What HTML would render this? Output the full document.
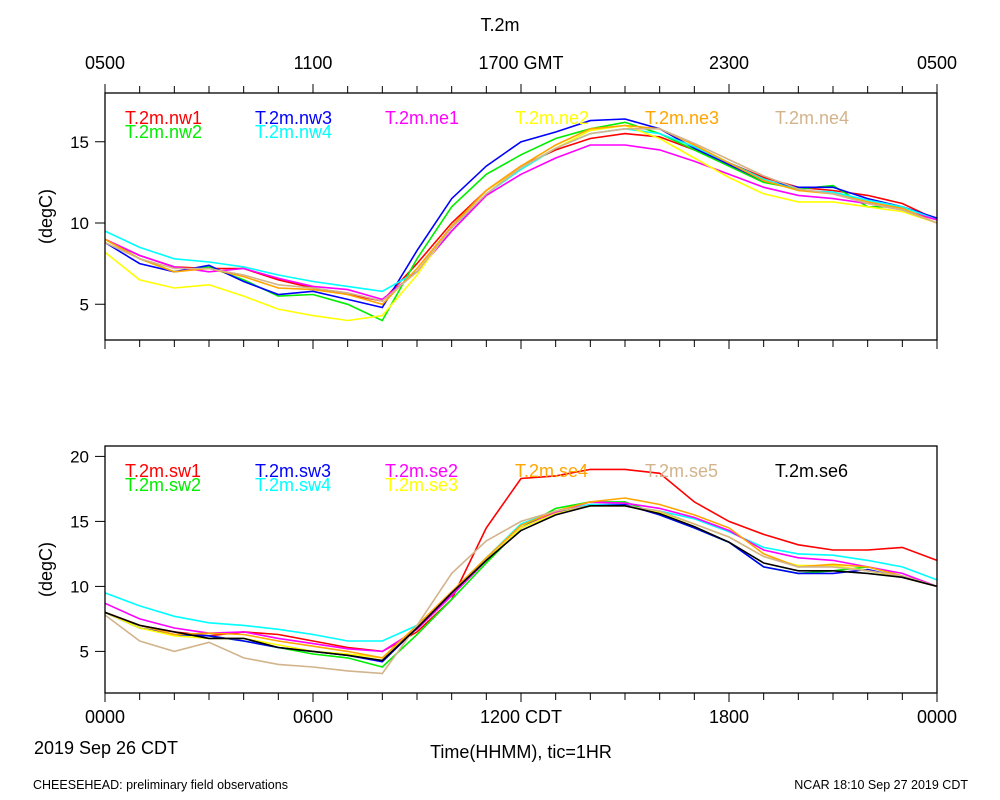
<!DOCTYPE html>
<html><head><meta charset="utf-8"><style>
body{margin:0;background:#fff;}
svg{display:block;font-family:"Liberation Sans",sans-serif;}
</style></head><body>
<svg id="c" width="1000" height="800"></svg>
<script>
const hours=[0,1,2,3,4,5,6,7,8,9,10,11,12,13,14,15,16,17,18,19,20,21,22,23,24];
const nw1=[9,8,7.3,7.2,7.2,6.5,6,5.6,5.2,7.5,10,12,13.5,14.5,15.2,15.5,15.3,14.5,13.7,12.8,12.2,12,11.7,11.2,10.2];
const nw2=[9,7.8,7,7.3,6.5,5.5,5.6,5,4,7.8,11,13,14.2,15.2,15.8,16.2,15.5,14.5,13.5,12.5,12.1,12.3,11,11,10.2];
const nw3=[8.8,7.5,7,7.4,6.4,5.6,5.8,5.3,4.8,8.3,11.5,13.5,15,15.6,16.3,16.4,15.8,14.6,13.6,12.6,12.2,12.2,11.5,11,10.3];
const nw4=[9.5,8.5,7.8,7.6,7.3,6.8,6.4,6.1,5.8,7,9.5,11.8,13.3,14.6,15.5,15.8,15.5,14.7,13.7,12.7,12,11.9,11.4,11,10.2];
const ne1=[9,8,7.3,7,7.2,6.6,6.1,5.9,5.3,7,9.5,11.7,13,14,14.8,14.8,14.5,13.8,13,12.2,11.7,11.5,11.2,10.8,10.2];
const ne2=[8.2,6.5,6,6.2,5.5,4.7,4.3,4,4.3,6.8,9.8,12,13.4,14.6,15.7,16,15.2,14,12.8,11.8,11.3,11.3,11,10.7,10];
const ne3=[9,7.8,7,7.2,6.7,6,5.9,5.6,5,7.2,9.8,12,13.5,14.8,15.8,16,15.8,14.8,13.7,12.6,12,11.8,11.3,10.9,10];
const ne4=[8.8,7.8,7.2,7.2,6.8,6.2,6,5.7,5.2,7,9.7,11.8,13.4,14.6,15.5,15.8,15.8,14.9,13.9,12.9,12.1,11.8,11.2,10.8,10];
const sw1=[8,7,6.5,6.2,6.5,6.3,5.8,5.3,5,6.5,9,14.5,18.3,18.5,19,19,18.7,16.5,15,14,13.2,12.8,12.8,13,12];
const sw2=[8,6.8,6.3,6.2,5.8,5.3,4.8,4.5,3.8,6.3,9,11.8,14.5,16,16.5,16.5,15.5,14.5,13.4,11.5,11,11.2,11.5,10.8,10];
const sw3=[8,6.8,6.3,6.2,5.8,5.3,5,4.7,4.2,6.8,9.3,12,14.5,15.7,16.3,16.3,15.5,14.5,13.4,11.5,11,11,11.3,10.7,10];
const sw4=[9.5,8.5,7.7,7.2,7,6.7,6.3,5.8,5.8,7,9.5,12.2,14.8,15.8,16.3,16.2,15.8,15.2,14.2,13,12.5,12.4,12,11.5,10.5];
const se2=[8.7,7.5,6.8,6.4,6.5,6,5.6,5.2,5,6.7,9.3,12,14.5,15.7,16.5,16.4,16,15.3,14.3,12.8,12.2,12,11.5,11,10];
const se3=[8,6.8,6.2,6,6,5.5,5,4.8,4.5,7,9.5,12,14.5,15.6,16.2,16.2,15.7,14.8,13.8,12.3,11.6,11.6,11.2,10.7,10];
const se4=[8,7,6.3,6.4,6.3,5.8,5.4,5,4.5,7,9.6,12.2,14.7,15.8,16.5,16.8,16.3,15.5,14.5,12.5,11.5,11.7,11.5,10.8,10];
const se5=[7.8,5.8,5,5.7,4.5,4,3.8,3.5,3.3,7,11,13.5,15,15.8,16.2,16.2,15.8,14.8,13.8,12.3,11.5,11.5,11.2,10.8,10];
const se6=[8,7,6.5,6,6,5.3,5,4.7,4.3,6.8,9.5,12,14.3,15.5,16.2,16.2,15.6,14.6,13.4,11.8,11.2,11.2,11,10.7,10];
const topTicks=[5,10,15], botTicks=[5,10,15,20];
const topXLabels=["0500","1100","1700 GMT","2300","0500"];
const botXLabels=["0000","0600","1200 CDT","1800","0000"];

const svg=document.getElementById('c');const NS='http://www.w3.org/2000/svg';
function mk(t,a,txt,parent){const e=document.createElementNS(NS,t);for(const k in a)e.setAttribute(k,a[k]);if(txt!==undefined)e.textContent=txt;(parent||svg).appendChild(e);return e;}
const X0=105,X1=937;const x=h=>X0+(X1-X0)*h/24;
const panels=[
 {top:93,bot:340,ymin:2.8,ymax:18.0,ticks:topTicks,
  series:[["T.2m.nw1",nw1,"#ff0000"],["T.2m.nw2",nw2,"#00ee00"],["T.2m.nw3",nw3,"#0000ff"],["T.2m.nw4",nw4,"#00ffff"],["T.2m.ne1",ne1,"#ff00ff"],["T.2m.ne2",ne2,"#ffff00"],["T.2m.ne3",ne3,"#ffa500"],["T.2m.ne4",ne4,"#d2b48c"]],
  legend:[[0,0],[0,1],[1,0],[1,1],[2,0],[3,0],[4,0],[5,0]]},
 {top:446,bot:693,ymin:1.8,ymax:20.8,ticks:botTicks,
  series:[["T.2m.sw1",sw1,"#ff0000"],["T.2m.sw2",sw2,"#00ee00"],["T.2m.sw3",sw3,"#0000ff"],["T.2m.sw4",sw4,"#00ffff"],["T.2m.se2",se2,"#ff00ff"],["T.2m.se3",se3,"#ffff00"],["T.2m.se4",se4,"#ffa500"],["T.2m.se5",se5,"#d2b48c"],["T.2m.se6",se6,"#000000"]],
  legend:[[0,0],[0,1],[1,0],[1,1],[2,0],[2,1],[3,0],[4,0],[5,0]]}
];
panels.forEach((p,pi)=>{
 const g=mk('g',{});
 const y=v=>p.bot-(p.bot-p.top)*(v-p.ymin)/(p.ymax-p.ymin);
 p.series.forEach((s,si)=>{
  const d=s[1].map((v,i)=>(i?'L':'M')+x(hours[i]).toFixed(1)+' '+y(v).toFixed(1)).join(' ');
  const l=mk('path',{d:d,fill:'none',stroke:s[2],'stroke-width':1.6},undefined,g);
  
  
  const [col,row]=p.legend[si];
  const t=mk('text',{x:125+col*130,y:p.top+31+row*14,'font-size':18,fill:s[2]},s[0],g);
  
  
 });
 const r=mk('rect',{x:X0,y:p.top,width:X1-X0,height:p.bot-p.top,fill:'none',stroke:'#000','stroke-width':1.3},undefined,g);
 
 for(let h=0;h<=24;h++){
  const major=h%6===0;
  mk('line',{x1:x(h),x2:x(h),y1:p.bot,y2:p.bot+(major?9:7),stroke:'#000','stroke-width':1},undefined,g);
  if(pi===0)mk('line',{x1:x(h),x2:x(h),y1:p.top,y2:p.top-(major?9:7),stroke:'#000','stroke-width':1},undefined,g);
 }
 p.ticks.forEach(v=>{
  mk('line',{x1:X0-10,x2:X0,y1:y(v),y2:y(v),stroke:'#000'},undefined,g);
  const t=mk('text',{x:89,y:y(v)+6,'font-size':17,'text-anchor':'end'},String(v),g);
  
 });
 const yt=mk('text',{x:52,y:(p.top+p.bot)/2,'font-size':18,'text-anchor':'middle',transform:`rotate(-90 52 ${(p.top+p.bot)/2})`},'(degC)',g);
 
});
topXLabels.forEach((s,i)=>{const t=mk('text',{x:x(i*6),y:69,'font-size':18,'text-anchor':'middle'},s);
 });
botXLabels.forEach((s,i)=>{const t=mk('text',{x:x(i*6),y:723,'font-size':18,'text-anchor':'middle'},s);
 });
const extras=[["chart-title",500,31,18,"middle","T.2m"],["date-label",106,754,18,"middle","2019 Sep 26 CDT"],["x-axis-title",521,758,18,"middle","Time(HHMM), tic=1HR"],["footer-left",33,789,12.5,"start","CHEESEHEAD: preliminary field observations"],["footer-right",968,789,12.5,"end","NCAR 18:10 Sep 27 2019 CDT"]];
extras.forEach(e=>{const t=mk('text',{x:e[1],y:e[2],'font-size':e[3],'text-anchor':e[4]},e[5]);
 });
</script>
</body></html>
